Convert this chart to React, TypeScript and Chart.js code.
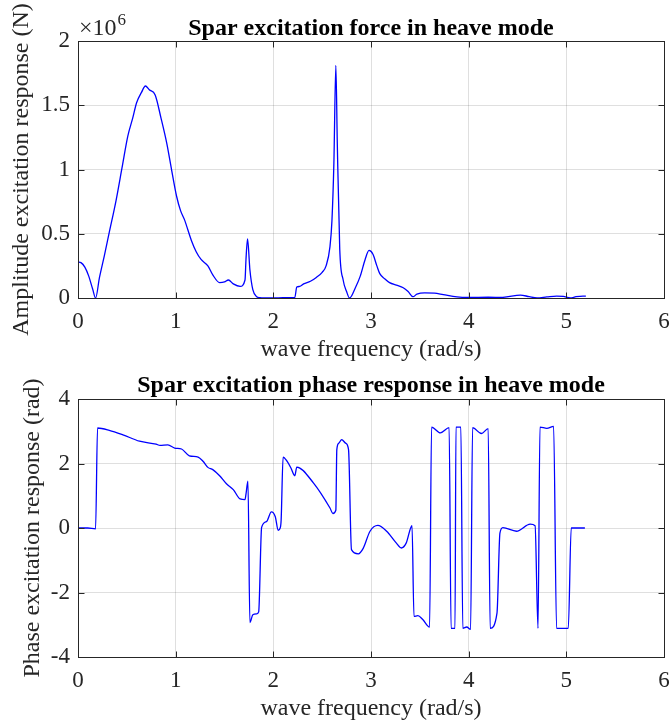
import React, { useEffect, useRef } from "react";
import { Chart, registerables } from "chart.js";

Chart.register(...registerables);

// ---------- data ----------
const xTicks = [0, 1, 2, 3, 4, 5, 6];
const ampTicks = [0, 0.5e6, 1e6, 1.5e6, 2e6];
const phaseTicks = [-4, -2, 0, 2, 4];

const ampFreq = [
  0.0, 0.03, 0.07, 0.11, 0.15, 0.18, 0.22, 0.27, 0.32, 0.39, 0.45, 0.51, 0.56, 0.6, 0.65, 0.69, 0.73, 0.79,
  0.85, 0.91, 0.96, 1.01, 1.05, 1.09, 1.16, 1.21, 1.26, 1.33, 1.38, 1.45, 1.5, 1.54, 1.59, 1.66, 1.71, 1.72,
  1.736, 1.76, 1.79, 1.83, 1.86, 1.9, 2.0, 2.1, 2.22, 2.24, 2.27, 2.31, 2.38, 2.44, 2.5, 2.54, 2.58, 2.6,
  2.62, 2.64, 2.655, 2.68, 2.715, 2.75, 2.78, 2.84, 2.89, 2.94, 2.98, 3.02, 3.06, 3.09, 3.14, 3.19, 3.26,
  3.33, 3.38, 3.43, 3.47, 3.55, 3.65, 3.74, 3.88, 4.0, 4.2, 4.35, 4.53, 4.62, 4.7, 4.8, 4.9, 4.97, 5.04,
  5.1, 5.17, 5.2,
];
const ampValues = [
  0.28e6, 0.275e6, 0.24e6, 0.17e6, 0.07e6, 0.0, 0.16e6, 0.33e6, 0.51e6, 0.76e6, 1.01e6, 1.26e6, 1.4e6,
  1.52e6, 1.6e6, 1.65e6, 1.62e6, 1.58e6, 1.4e6, 1.2e6, 0.99e6, 0.79e6, 0.68e6, 0.61e6, 0.45e6, 0.36e6,
  0.3e6, 0.25e6, 0.18e6, 0.12e6, 0.125e6, 0.14e6, 0.11e6, 0.09e6, 0.14e6, 0.3e6, 0.46e6, 0.22e6, 0.065e6,
  0.01e6, 0.003e6, 0.0, 0.0, 0.002e6, 0.004e6, 0.085e6, 0.09e6, 0.11e6, 0.13e6, 0.16e6, 0.2e6, 0.25e6,
  0.4e6, 0.6e6, 1.05e6, 1.81e6, 1.2e6, 0.38e6, 0.14e6, 0.05e6, 0.0, 0.08e6, 0.17e6, 0.3e6, 0.37e6, 0.34e6,
  0.25e6, 0.19e6, 0.15e6, 0.12e6, 0.1e6, 0.08e6, 0.05e6, 0.01e6, 0.03e6, 0.04e6, 0.038e6, 0.026e6,
  0.008e6, 0.004e6, 0.006e6, 0.005e6, 0.023e6, 0.01e6, 0.0, 0.008e6, 0.015e6, 0.012e6, 0.0, 0.01e6,
  0.015e6, 0.015e6,
];

const phaseFreq = [
  0.0, 0.1, 0.18, 0.2, 0.32, 0.46, 0.63, 0.8, 0.84, 0.92, 0.99, 1.06, 1.14, 1.23, 1.28, 1.33, 1.38, 1.45,
  1.52, 1.59, 1.66, 1.71, 1.72, 1.74, 1.76, 1.79, 1.83, 1.85, 1.88, 1.93, 1.98, 2.02, 2.05, 2.07, 2.08,
  2.1, 2.14, 2.18, 2.22, 2.24, 2.41, 2.58, 2.61, 2.64, 2.65, 2.67, 2.7, 2.74, 2.77, 2.8, 2.87, 2.92, 2.99,
  3.07, 3.16, 3.26, 3.31, 3.36, 3.42, 3.44, 3.48, 3.53, 3.6, 3.62, 3.71, 3.8, 3.82, 3.86, 3.87, 3.92, 3.94,
  3.98, 4.02, 4.04, 4.13, 4.2, 4.22, 4.29, 4.32, 4.35, 4.49, 4.63, 4.68, 4.71, 4.73, 4.8, 4.87, 4.9, 5.02,
  5.05, 5.19,
];
const phaseValues = [
  0.0, 0.0, -0.03, 3.1, 3.03, 2.89, 2.69, 2.6, 2.56, 2.58, 2.48, 2.45, 2.24, 2.2, 2.07, 1.88, 1.81, 1.62,
  1.37, 1.19, 0.9, 0.88, 1.05, 1.45, -2.93, -2.69, -2.66, -2.6, 0.02, 0.2, 0.5, 0.35, -0.07, 0.0, 0.25,
  2.2, 2.07, 1.86, 1.62, 1.89, 1.4, 0.62, 0.45, 0.55, 2.43, 2.63, 2.74, 2.63, 2.43, -0.67, -0.8, -0.63,
  -0.1, 0.08, -0.1, -0.47, -0.62, -0.47, 0.07, -2.74, -2.72, -2.84, -3.07, 3.13, 2.95, 3.11, -3.11, -3.11,
  3.13, 3.13, -3.11, -3.07, -3.14, 3.11, 2.93, 3.08, -3.11, -2.64, -0.16, 0.01, -0.1, 0.12, 0.07, -3.11,
  3.13, 3.09, 3.15, -3.11, -3.11, 0.0, 0.0,
];

// ---------- styling ----------
const FONT = '"Liberation Serif", "Times New Roman", serif';
const AXIS_COLOR = "#262626";
const GRID_COLOR = "rgba(38,38,38,0.15)";
const LINE_COLOR = "#0000ff";
const TICK_LEN = 6;
const W = 671;

const matlabFrame = {
  id: "matlabFrame",
  afterDraw(chart: any, _args: any, opts: any) {
    const { ctx, chartArea: a, scales } = chart;
    ctx.save();
    ctx.strokeStyle = AXIS_COLOR;
    ctx.lineWidth = 1;
    const L = Math.round(a.left) + 0.5;
    const R = Math.round(a.right) + 0.5;
    const T = Math.round(a.top) + 0.5;
    const B = Math.round(a.bottom) + 0.5;
    ctx.beginPath();
    for (const v of xTicks) {
      const px = Math.round(scales.x.getPixelForValue(v)) + 0.5;
      ctx.moveTo(px, B);
      ctx.lineTo(px, B - TICK_LEN);
      ctx.moveTo(px, T);
      ctx.lineTo(px, T + TICK_LEN);
    }
    for (const v of opts.yTicks) {
      const py = Math.round(scales.y.getPixelForValue(v)) + 0.5;
      ctx.moveTo(L, py);
      ctx.lineTo(L + TICK_LEN, py);
      ctx.moveTo(R, py);
      ctx.lineTo(R - TICK_LEN, py);
    }
    ctx.stroke();
    ctx.strokeRect(L, T, R - L, B - T);

    const cx = (a.left + a.right) / 2;
    ctx.textAlign = "center";
    ctx.textBaseline = "alphabetic";
    ctx.fillStyle = "#000";
    ctx.font = `bold 24px ${FONT}`;
    ctx.fillText(opts.title, cx, a.top - opts.titleGap);

    ctx.fillStyle = AXIS_COLOR;
    ctx.font = `24px ${FONT}`;
    ctx.fillText(opts.xLabel, cx, a.bottom + opts.xLabelGap);

    ctx.save();
    ctx.translate(opts.yLabelX, (a.top + a.bottom) / 2);
    ctx.rotate(-Math.PI / 2);
    ctx.fillText(opts.yLabel, 0, 0);
    ctx.restore();

    if (opts.exponent) {
      ctx.textAlign = "left";
      ctx.font = `24px ${FONT}`;
      const base = "\u00d710";
      ctx.fillText(base, a.left + 1, a.top - 6);
      const w = ctx.measureText(base).width;
      ctx.font = `17px ${FONT}`;
      ctx.fillText(opts.exponent, a.left + 1 + w + 1, a.top - 16);
    }
    ctx.restore();
  },
};

type PanelProps = {
  top: number;
  height: number;
  xs: number[];
  ys: number[];
  yMin: number;
  yMax: number;
  yTicks: number[];
  yFormat: (v: number) => string;
  areaTop: number;
  areaBottom: number;
  title: string;
  titleGap: number;
  xLabel: string;
  yLabel: string;
  yLabelX: number;
  exponent?: string;
};

function Panel(p: PanelProps) {
  const ref = useRef<HTMLCanvasElement | null>(null);
  useEffect(() => {
    if (!ref.current) return;
    const chart = new Chart(ref.current, {
      type: "line",
      data: {
        datasets: [
          {
            data: p.xs.map((x, i) => ({ x, y: p.ys[i] })),
            borderColor: LINE_COLOR,
            borderWidth: 1.3,
            pointRadius: 0,
            cubicInterpolationMode: "monotone",
            fill: false,
          },
        ],
      },
      options: {
        animation: false,
        responsive: false,
        maintainAspectRatio: false,
        layout: { padding: { left: 0, right: 7, top: p.areaTop, bottom: 0 } },
        plugins: {
          legend: { display: false },
          tooltip: { enabled: false },
          title: { display: false },
          matlabFrame: {
            yTicks: p.yTicks,
            title: p.title,
            titleGap: p.titleGap,
            xLabel: p.xLabel,
            yLabel: p.yLabel,
            yLabelX: p.yLabelX,
            xLabelGap: 58,
            exponent: p.exponent,
          },
        } as any,
        scales: {
          x: {
            type: "linear",
            min: 0,
            max: 6,
            afterBuildTicks: (s: any) => {
              s.ticks = xTicks.map((v) => ({ value: v }));
            },
            afterFit: (s: any) => {
              s.height = p.height - p.areaBottom;
              s.paddingLeft = 0;
              s.paddingRight = 0;
            },
            grid: { color: GRID_COLOR, drawTicks: false, lineWidth: 1 },
            border: { display: false },
            ticks: {
              autoSkip: false,
              padding: 10,
              color: AXIS_COLOR,
              font: { family: FONT, size: 23 },
              maxRotation: 0,
              callback: (v: any) => String(v),
            },
          },
          y: {
            type: "linear",
            min: p.yMin,
            max: p.yMax,
            afterBuildTicks: (s: any) => {
              s.ticks = p.yTicks.map((v) => ({ value: v }));
            },
            afterFit: (s: any) => {
              s.width = 78;
              s.paddingTop = 0;
              s.paddingBottom = 0;
            },
            grid: { color: GRID_COLOR, drawTicks: false, lineWidth: 1 },
            border: { display: false },
            ticks: {
              padding: 8,
              color: AXIS_COLOR,
              font: { family: FONT, size: 23 },
              callback: (v: any) => p.yFormat(Number(v)),
            },
          },
        },
      },
      plugins: [matlabFrame],
    });
    return () => chart.destroy();
  }, []);
  return (
    <canvas
      ref={ref}
      width={W}
      height={p.height}
      style={{ position: "absolute", left: 0, top: p.top, width: W, height: p.height }}
    />
  );
}

export default function App() {
  return (
    <div style={{ position: "absolute", left: 0, top: 0, width: W, height: 725, background: "#fff" }}>
      <Panel
        top={0}
        height={362}
        xs={ampFreq}
        ys={ampValues}
        yMin={0}
        yMax={2e6}
        yTicks={ampTicks}
        yFormat={(v) => String(Number((v / 1e6).toFixed(2)))}
        areaTop={41}
        areaBottom={298}
        title="Spar excitation force in heave mode"
        titleGap={6}
        xLabel="wave frequency (rad/s)"
        yLabel="Amplitude excitation response (N)"
        yLabelX={28}
        exponent="6"
      />
      <Panel
        top={362}
        height={363}
        xs={phaseFreq}
        ys={phaseValues}
        yMin={-4}
        yMax={4}
        yTicks={phaseTicks}
        yFormat={(v) => String(v)}
        areaTop={37}
        areaBottom={295}
        title="Spar excitation phase response in heave mode"
        titleGap={7}
        xLabel="wave frequency (rad/s)"
        yLabel="Phase excitation response (rad)"
        yLabelX={39}
      />
    </div>
  );
}
